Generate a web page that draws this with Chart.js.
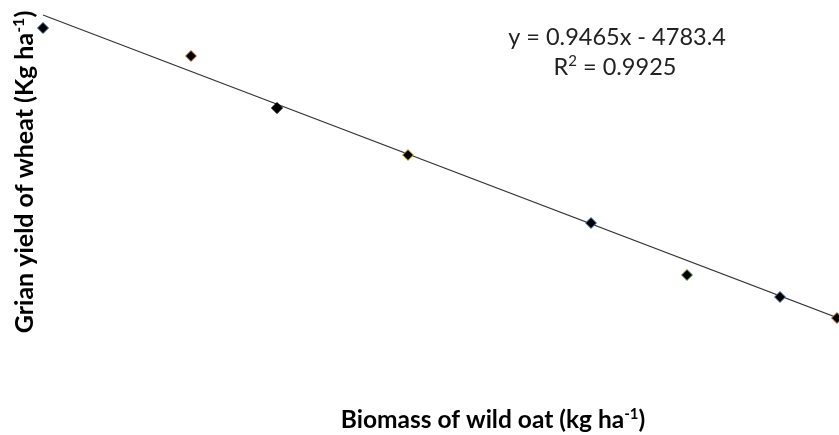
<!DOCTYPE html>
<html>
<head>
<meta charset="utf-8">
<script src="https://cdn.jsdelivr.net/npm/chart.js@4.4.1/dist/chart.umd.min.js"></script>
<style>
html,body{margin:0;padding:0;background:#fff;}
#wrap{width:839px;height:435px;position:relative;}
</style>
</head>
<body>
<div id="wrap"><canvas id="c" width="839" height="435"></canvas></div>
<script>
// Biomass of wild oat (kg ha-1)
const biomass = [0, 148, 234, 365, 548, 644, 737, 794];
// Grain yield of wheat (kg ha-1)
const grainYield = [5120, 4840, 4320, 3850, 3170, 2650, 2430, 2220];
const pointEdgeColors = ['#2e5f9e', '#e07b2a', '#000000', '#e8b820', '#4a7cc0', '#6aa03a', '#4a7cc0', '#e07b2a'];
// Trendline endpoints
const trendX = [0, 800];
const trendY = [5250, 2200];
const equationText = 'y = 0.9465x - 4783.4';
const r2Value = '0.9925';
const xTitle = [['Biomass of wild oat (kg ha', false], ['-1', true], [')', false]];
const yTitle = [['Grian yield of wheat (Kg ha', false], ['-1', true], [')', false]];

const FONT = 'Lato, "Open Sans", sans-serif';

function drawRich(ctx, segs, size, weight) {
  const supSize = Math.round(size * 0.62);
  let total = 0;
  const ws = segs.map(([t, sup]) => {
    ctx.font = `${weight} ${sup ? supSize : size}px ${FONT}`;
    const w = ctx.measureText(t).width;
    total += w;
    return w;
  });
  let x = -total / 2;
  segs.forEach(([t, sup], i) => {
    ctx.font = `${weight} ${sup ? supSize : size}px ${FONT}`;
    ctx.fillText(t, x, sup ? -size * 0.38 : 0);
    x += ws[i];
  });
}

const textPlugin = {
  id: 'texts',
  afterDraw(chart) {
    const ctx = chart.ctx;
    ctx.save();
    ctx.fillStyle = '#000';
    ctx.textBaseline = 'alphabetic';
    ctx.textAlign = 'left';
    // x title
    ctx.save();
    ctx.translate(493, 428);
    drawRich(ctx, xTitle, 24.5, 'bold');
    ctx.restore();
    // y title
    ctx.save();
    ctx.translate(33, 172);
    ctx.rotate(-Math.PI / 2);
    drawRich(ctx, yTitle, 25, 'bold');
    ctx.restore();
    // equation
    ctx.fillStyle = '#222';
    ctx.save();
    ctx.translate(617, 45);
    drawRich(ctx, [[equationText, false]], 23.5, 'normal');
    ctx.restore();
    ctx.save();
    ctx.translate(615, 75);
    drawRich(ctx, [['R', false], ['2', true], [' = ' + r2Value, false]], 23.5, 'normal');
    ctx.restore();
    ctx.restore();
  }
};

new Chart(document.getElementById('c'), {
  type: 'scatter',
  data: {
    datasets: [
      {
        type: 'line',
        data: trendX.map((x, i) => ({x, y: trendY[i]})),
        borderColor: '#333333',
        borderWidth: 1.2,
        pointRadius: 0,
        fill: false,
        clip: false,
        order: 2
      },
      {
        data: biomass.map((x, i) => ({x, y: grainYield[i]})),
        pointStyle: 'rectRot',
        pointRadius: 5.5,
        backgroundColor: '#000000',
        borderColor: pointEdgeColors,
        borderWidth: 1,
        clip: false,
        order: 1
      }
    ]
  },
  options: {
    responsive: false,
    animation: false,
    layout: {autoPadding: false, padding: {left: 43, right: 0, top: 0, bottom: 95}},
    plugins: {legend: {display: false}, tooltip: {enabled: false}},
    scales: {
      x: {type: 'linear', min: 0, max: 796, display: false},
      y: {type: 'linear', min: 2000, max: 5400, display: false}
    }
  },
  plugins: [textPlugin]
});
</script>
</body>
</html>
